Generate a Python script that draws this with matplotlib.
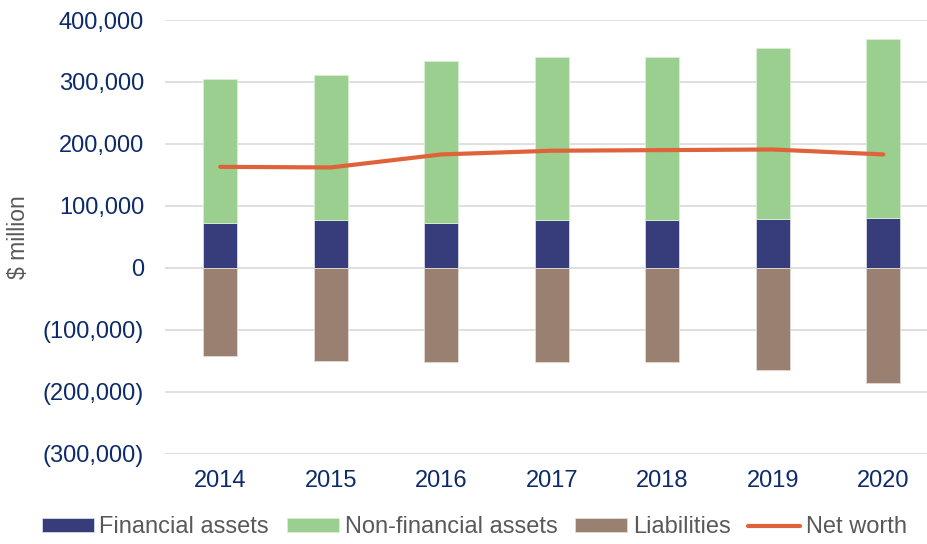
import matplotlib.pyplot as plt
from matplotlib.ticker import FuncFormatter

plt.rcParams['font.family'] = ['Liberation Sans', 'DejaVu Sans']

years = ['2014', '2015', '2016', '2017', '2018', '2019', '2020']
financial = [71600, 76900, 71600, 77000, 76500, 78500, 80600]
non_financial = [233900, 235100, 262900, 263000, 263500, 276500, 288400]
liabilities = [-142400, -150500, -152000, -152600, -151600, -164500, -186600]
net_worth = [163000, 162000, 183000, 189000, 190000, 191000, 183000]

c_fin = '#363d7a'
c_nonfin = '#9acf90'
c_liab = '#9a8070'
c_net = '#e0623a'
c_tick = '#0d2b6b'
c_grey = '#595959'

fig = plt.figure(figsize=(9.27, 5.44), dpi=100)
ax = fig.add_axes([165 / 927, 1 - 453.7 / 544, 773.5 / 927, 433.7 / 544])

x = range(len(years))
w = 0.31
b1 = ax.bar(x, financial, w, color=c_fin, edgecolor='#d8dbe8', linewidth=0.6,
            label='Financial assets', zorder=2)
b2 = ax.bar(x, non_financial, w, bottom=financial, color=c_nonfin, edgecolor='#d9efd4',
            linewidth=0.6, label='Non-financial assets', zorder=2)
b3 = ax.bar(x, liabilities, w, color=c_liab, edgecolor='#e3dad3', linewidth=0.6,
            label='Liabilities', zorder=2)
ln, = ax.plot(x, net_worth, color=c_net, lw=3, solid_capstyle='round',
              label='Net worth', zorder=3)

ax.set_xlim(-0.5, 6.5)
ax.set_ylim(-300000, 400000)
ax.set_yticks(range(-300000, 400001, 100000))
ax.yaxis.set_major_formatter(FuncFormatter(
    lambda v, p: f'({abs(v):,.0f})' if v < 0 else f'{v:,.0f}'))
ax.set_xticks(list(x))
ax.set_xticklabels(years)
ax.tick_params(length=0, labelsize=17, colors=c_tick)
ax.tick_params(axis='x', pad=12)
ax.tick_params(axis='y', pad=15)
ax.grid(axis='y', color='#d9d9d9', lw=1.2, zorder=0)
ax.set_axisbelow(True)
for s in ax.spines.values():
    s.set_visible(False)

ax.set_ylabel('$ million', fontsize=16.5, color=c_grey)
ax.yaxis.set_label_coords(-0.175, 0.5)

fig.legend([b1, b2, b3, ln],
           ['Financial assets', 'Non-financial assets', 'Liabilities', 'Net worth'],
           loc='lower left', bbox_to_anchor=(0.027, -0.02), ncol=4, frameon=False,
           fontsize=17, labelcolor=c_grey, handlelength=2.2, handleheight=0.55,
           handletextpad=0.25, columnspacing=0.75, borderpad=0.2)

fig.savefig('out.png', dpi=100)
